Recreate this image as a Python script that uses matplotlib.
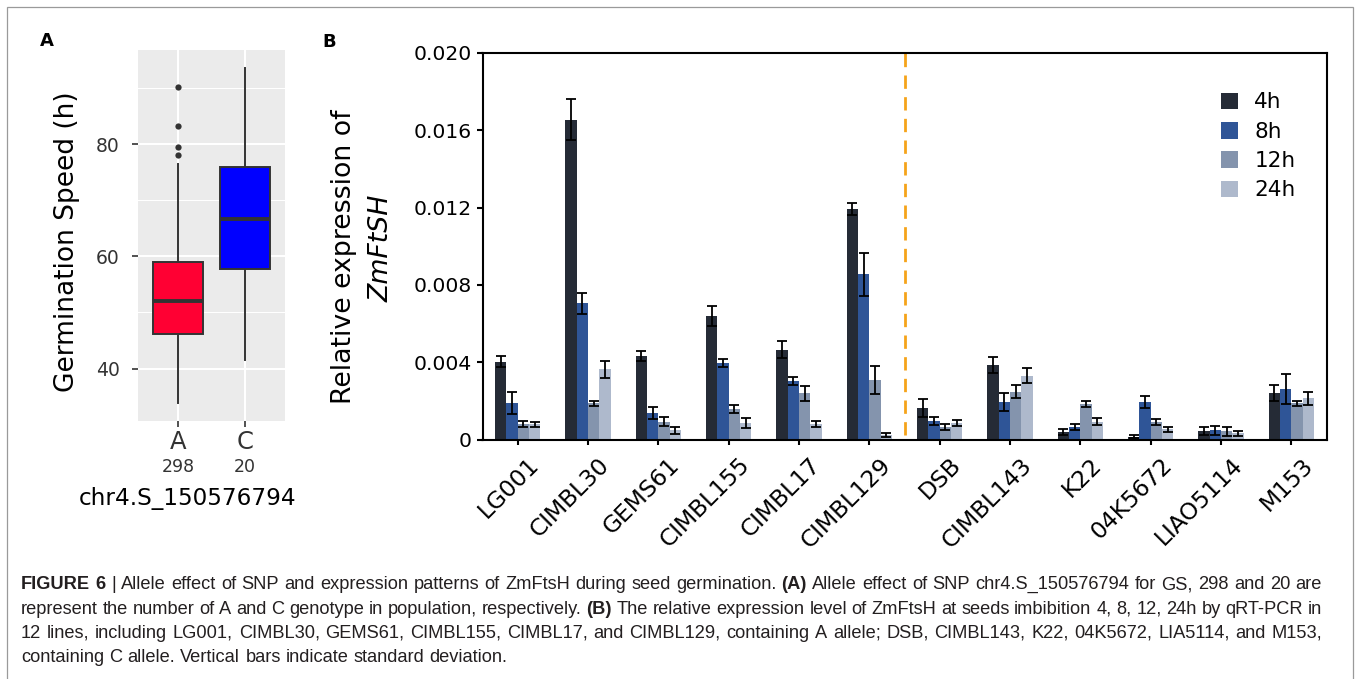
import matplotlib
matplotlib.use('Agg')
import matplotlib.pyplot as plt
import matplotlib.font_manager as fm
from matplotlib import transforms
from matplotlib.patches import Rectangle
import numpy as np

W, H = 1356, 679
DPI = 100

# ---------------- Panel A data (box statistics) ----------------
alleles = ['A', 'C']
allele_counts = ['298', '20']
box_q1 = [46.2, 57.7]
box_med = [52.0, 66.6]
box_q3 = [58.9, 75.9]
whisker_lo = [33.8, 41.6]
whisker_hi = [76.5, 93.6]
outliers_A = [78.1, 79.5, 83.3, 90.2]
outliers_C = []
box_colors = ['#FF0033', '#0000FF']

# ---------------- Panel B data ----------------
inbred_lines = ['LG001', 'CIMBL30', 'GEMS61', 'CIMBL155', 'CIMBL17', 'CIMBL129',
                'DSB', 'CIMBL143', 'K22', '04K5672', 'LIAO5114', 'M153']
time_points = ['4h', '8h', '12h', '24h']
expr_4h = [0.00403, 0.01655, 0.00433, 0.00639, 0.00465, 0.01193,
           0.00161, 0.00386, 0.00038, 0.00015, 0.00045, 0.00240]
sd_4h = [0.00030, 0.00105, 0.00025, 0.00052, 0.00045, 0.00031,
         0.00047, 0.00040, 0.00015, 0.00008, 0.00022, 0.00041]
expr_8h = [0.00188, 0.00705, 0.00136, 0.00394, 0.00304, 0.00855,
           0.00097, 0.00193, 0.00064, 0.00193, 0.00047, 0.00260]
sd_8h = [0.00056, 0.00055, 0.00030, 0.00020, 0.00022, 0.00112,
         0.00022, 0.00046, 0.00015, 0.00032, 0.00022, 0.00078]
expr_12h = [0.00080, 0.00187, 0.00093, 0.00159, 0.00239, 0.00307,
            0.00065, 0.00248, 0.00183, 0.00090, 0.00042, 0.00188]
sd_12h = [0.00015, 0.00013, 0.00022, 0.00020, 0.00038, 0.00073,
          0.00016, 0.00034, 0.00016, 0.00015, 0.00024, 0.00013]
expr_24h = [0.00078, 0.00363, 0.00047, 0.00084, 0.00080, 0.00023,
            0.00086, 0.00331, 0.00092, 0.00052, 0.00032, 0.00213]
sd_24h = [0.00012, 0.00043, 0.00020, 0.00026, 0.00017, 0.00012,
          0.00015, 0.00037, 0.00017, 0.00011, 0.00014, 0.00034]
bar_colors = ['#252B36', '#2F5597', '#8494AD', '#AEB9CC']

# ---------------- Caption text ----------------
caption_lines = [
    [("FIGURE 6", True), ("|", False),
     ("Allele effect of SNP and expression patterns of ZmFtsH during seed germination.", False),
     ("(A)", True), ("Allele effect of SNP chr4.S_150576794 for GS, 298 and 20 are", False)],
    [("represent the number of A and C genotype in population, respectively.", False),
     ("(B)", True),
     ("The relative expression level of ZmFtsH at seeds imbibition 4, 8, 12, 24h by qRT-PCR in", False)],
    [("12 lines, including LG001, CIMBL30, GEMS61, CIMBL155, CIMBL17, and CIMBL129, containing A allele; "
      "DSB, CIMBL143, K22, 04K5672, LIA5114, and M153,", False)],
    [("containing C allele. Vertical bars indicate standard deviation.", False)],
]

plt.rcParams['font.family'] = ['DejaVu Sans']
fig = plt.figure(figsize=(W / DPI, H / DPI), dpi=DPI)
fig.patch.set_facecolor('white')


def fx(x):
    return x / W


def fy(y):
    return 1 - y / H


# ================= Panel A =================
axA = fig.add_axes([fx(138), fy(421), fx(285) - fx(138), fy(50) - fy(421)])
axA.set_facecolor('#EBEBEB')
for s in axA.spines.values():
    s.set_visible(False)
stats = []
fl = [outliers_A, outliers_C]
for i in range(2):
    stats.append(dict(label=alleles[i], q1=box_q1[i], med=box_med[i], q3=box_q3[i],
                      whislo=whisker_lo[i], whishi=whisker_hi[i], fliers=np.array(fl[i])))
bp = axA.bxp(stats, positions=[1, 2], widths=0.75, patch_artist=True, showcaps=False,
             boxprops=dict(edgecolor='#333333', linewidth=1.4),
             medianprops=dict(color='#333333', linewidth=2.8, solid_capstyle='butt'),
             whiskerprops=dict(color='#333333', linewidth=1.4),
             flierprops=dict(marker='o', markersize=4.5, markerfacecolor='#333333',
                             markeredgecolor='none'))
for patch, c in zip(bp['boxes'], box_colors):
    patch.set_facecolor(c)
    patch.set_zorder(3)
for k in ('whiskers', 'medians', 'fliers'):
    for a in bp[k]:
        a.set_zorder(3.5 if k != 'whiskers' else 2.5)
axA.set_xlim(0.4, 2.6)
axA.set_ylim(30.66, 96.75)
axA.set_yticks([40, 60, 80])
axA.set_yticks([50, 70, 90], minor=True)
axA.set_xticks([1, 2])
axA.set_xticklabels(alleles, fontsize=17.5, color='#333333')
axA.tick_params(axis='y', which='major', length=4.2, width=1.2, color='#333333',
                labelsize=13.5, labelcolor='#333333', pad=9.0)
axA.tick_params(axis='y', which='minor', length=0)
axA.tick_params(axis='x', length=4.2, width=1.2, color='#333333', pad=2)
axA.grid(which='major', color='white', linewidth=1.5)
axA.grid(which='minor', axis='y', color='white', linewidth=0.75)
axA.set_axisbelow(True)
for i, n in enumerate(allele_counts):
    axA.text(i + 1, -0.123, n, transform=axA.get_xaxis_transform(), ha='center', va='center',
             fontsize=12.5, color='#333333')
fig.text(fx(67), fy(241.7), 'Germination Speed (h)', rotation=90, ha='center', va='center',
         fontsize=19)
fig.text(fx(188), fy(498), 'chr4.S_150576794', ha='center', va='center', fontsize=16.7)
fig.text(fx(47), fy(41), 'A', ha='center', va='center', fontsize=13, fontweight='bold')

# ================= Panel B =================
axB = fig.add_axes([fx(482.5), fy(439.5), fx(1326.5) - fx(482.5), fy(53) - fy(439.5)])
x = np.arange(len(inbred_lines))
bw = 0.161
series = [(expr_4h, sd_4h), (expr_8h, sd_8h), (expr_12h, sd_12h), (expr_24h, sd_24h)]
for j, (vals, sds) in enumerate(series):
    pos = x + (j - 1.5) * bw
    axB.bar(pos, vals, width=bw, color=bar_colors[j], label=time_points[j], zorder=2,
            linewidth=0)
    axB.errorbar(pos, vals, yerr=sds, fmt='none', ecolor='black', elinewidth=1.3,
                 capsize=3.8, capthick=1.3, zorder=3)
axB.plot([5.5, 5.5], [0.00025, 0.0200], color='#F5A31A', linewidth=2.0,
         linestyle=(0, (4.8, 3.0)), zorder=1, clip_on=False)
axB.set_xlim(-0.5, 11.5)
axB.set_ylim(0, 0.020)
axB.set_yticks([0, 0.004, 0.008, 0.012, 0.016, 0.020])
axB.set_yticklabels(['0', '0.004', '0.008', '0.012', '0.016', '0.020'])
axB.set_xticks(x)
axB.set_xticklabels(inbred_lines, rotation=45, ha='right', va='top', rotation_mode='anchor',
                    fontsize=16.8)
for s in axB.spines.values():
    s.set_linewidth(1.5)
axB.tick_params(axis='y', length=4.5, width=1.5, labelsize=14.6, pad=3.5)
axB.tick_params(axis='x', length=3.8, width=1.5, pad=6.2)
shift = transforms.ScaledTranslation(10 / DPI, 0, fig.dpi_scale_trans)
for lab in axB.get_xticklabels():
    lab.set_transform(lab.get_transform() + shift)
leg = axB.legend(loc='upper left', bbox_to_anchor=((1221 - 482.5) / 844, (439.5 - 92.5) / 386.5),
                 frameon=False, fontsize=15.5, handlelength=0.8, handleheight=0.8,
                 handletextpad=0.75, labelspacing=0.43, borderpad=0, borderaxespad=0)
fig.text(fx(344), fy(256.7), 'Relative expression of', rotation=90, ha='center', va='center',
         fontsize=19.3)
fig.text(fx(381.7), fy(248), 'ZmFtSH', rotation=90, ha='center', va='center', fontsize=19.3,
         style='italic')
fig.text(fx(329), fy(42), 'B', ha='center', va='center', fontsize=13, fontweight='bold')

# ================= Frame =================
fig.add_artist(Rectangle((fx(7), -0.05), fx(1353) - fx(7), fy(7) + 0.05, transform=fig.transFigure,
                         fill=False, edgecolor='#9A9A9A', linewidth=0.9, clip_on=False))

# ================= Caption =================
cap_family = 'DejaVu Sans'
for cand in ['Liberation Sans Narrow', 'DejaVu Sans Condensed', 'Liberation Sans']:
    try:
        fm.findfont(fm.FontProperties(family=cand), fallback_to_default=False)
        cap_family = cand
        break
    except Exception:
        continue

renderer = fig.canvas.get_renderer()


def measure(word, bold, fs):
    t = fig.text(0, 0, word, fontsize=fs, fontweight='bold' if bold else 'normal',
                 family=cap_family)
    w = t.get_window_extent(renderer=renderer).width
    t.remove()
    return w


def words_of(line):
    out = []
    for txt, b in line:
        for w in txt.split(' '):
            if w:
                out.append((w, b))
    return out


x0, x1 = 21, 1322
fs0 = 12
lw0 = words_of(caption_lines[0])
sp0 = measure('a a', False, fs0) - measure('aa', False, fs0)
nat0 = sum(measure(w, b, fs0) for w, b in lw0) + sp0 * (len(lw0) - 1)
cap_fs = fs0 * (x1 - x0) / nat0 * 0.995
space = measure('a a', False, cap_fs) - measure('aa', False, cap_fs)
baselines = [589, 613.5, 638, 662.5]
for li, line in enumerate(caption_lines):
    ws = words_of(line)
    widths = [measure(w, b, cap_fs) for w, b in ws]
    if li < 3:
        gap = (x1 - x0 - sum(widths)) / (len(ws) - 1)
    else:
        gap = space
    xx = x0
    for (w, b), wd in zip(ws, widths):
        fig.text(fx(xx), fy(baselines[li]), w, fontsize=cap_fs, family=cap_family,
                 fontweight='bold' if b else 'normal', ha='left', va='baseline', color='#231F20')
        xx += wd + gap

fig.savefig('out.png', dpi=DPI)
